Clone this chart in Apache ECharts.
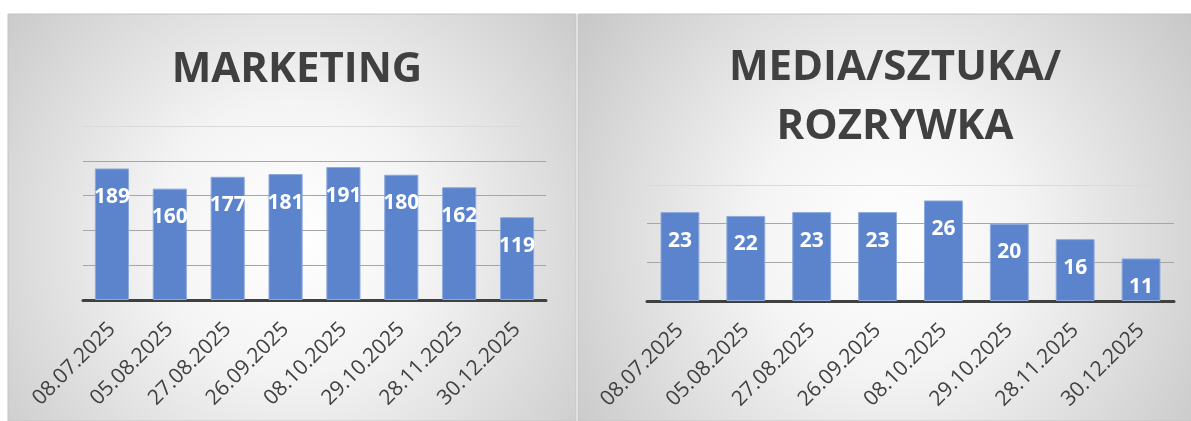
<!DOCTYPE html>
<html>
<head>
<meta charset="utf-8">
<script src="https://cdn.jsdelivr.net/npm/echarts@6/dist/echarts.min.js"></script>
<style>
  html, body { margin: 0; padding: 0; background: #fff; }
  #chart { width: 1191px; height: 421px; }
</style>
</head>
<body>
<div id="chart"></div>
<script>
// dane
const dates = ['08.07.2025', '05.08.2025', '27.08.2025', '26.09.2025', '08.10.2025', '29.10.2025', '28.11.2025', '30.12.2025']
const marketing = [189, 160, 177, 181, 191, 180, 162, 119]
const media = [23, 22, 23, 23, 26, 20, 16, 11]

const FONT = '"Open Sans", "DejaVu Sans", sans-serif'
const TEXT = '#404040'

function panelBg(x, w) { // tło panelu z gradientem
  return {
    type: 'rect',
    shape: { x: x, y: 14, width: w, height: 407 },
    style: {
      fill: new echarts.graphic.RadialGradient(0.5, 0.55, 0.95, [
        { offset: 0, color: '#ffffff' },
        { offset: 0.35, color: '#f4f4f4' },
        { offset: 1, color: '#c6c6c6' }
      ]),
      stroke: '#c4c4c4',
      lineWidth: 1
    },
    silent: true
  }
}

function xAxis(gridIndex) {
  return {
    type: 'category',
    gridIndex: gridIndex,
    data: dates,
    axisTick: { show: false },
    axisLine: { lineStyle: { color: '#404040', width: 3 } },
    axisLabel: { rotate: 45, margin: 26, color: TEXT, fontSize: 21, fontFamily: FONT, interval: 0 }
  }
}

function yAxis(gridIndex, max, interval, splitColors) {
  return {
    type: 'value',
    gridIndex: gridIndex,
    min: 0,
    max: max,
    interval: interval,
    axisLabel: { show: false },
    axisLine: { show: false },
    axisTick: { show: false },
    splitLine: { lineStyle: { color: splitColors, width: 1.2 } }
  }
}

function barSeries(idx, data) {
  return {
    type: 'bar',
    xAxisIndex: idx,
    yAxisIndex: idx,
    data: data,
    barWidth: '59%',
    itemStyle: { color: '#5b84cc', borderColor: '#8eaadc', borderWidth: 1 },
    label: {
      show: true,
      position: 'insideTop',
      distance: 18,
      color: '#ffffff',
      fontSize: 21,
      fontWeight: 'bold',
      fontFamily: FONT
    }
  }
}

const option = {
  backgroundColor: '#ffffff',
  animation: false,
  graphic: [panelBg(8, 568), panelBg(578, 620)],
  title: [
    {
      text: 'MARKETING',
      left: 292, top: 40, textAlign: 'center',
      textStyle: { color: TEXT, fontSize: 42, fontWeight: 'bold', fontFamily: FONT, lineHeight: 50 }
    },
    {
      text: 'MEDIA/SZTUKA/\nROZRYWKA',
      left: 890, top: 34, textAlign: 'center',
      textStyle: { color: TEXT, fontSize: 42, fontWeight: 'bold', fontFamily: FONT, lineHeight: 59 }
    }
  ],
  grid: [
    { left: 83, right: 645, top: 126, height: 174 },
    { left: 647, right: 17, top: 185, height: 116 }
  ],
  xAxis: [xAxis(0), xAxis(1)],
  yAxis: [
    yAxis(0, 250, 50, ['#a6a6a6', '#a6a6a6', '#a6a6a6', '#a6a6a6', '#a6a6a6', '#dadada']),
    yAxis(1, 30, 10, ['#a6a6a6', '#a6a6a6', '#a6a6a6', '#dadada'])
  ],
  series: [barSeries(0, marketing), barSeries(1, media)]
}

const chart = echarts.init(document.getElementById('chart'))
chart.setOption(option)
</script>
</body>
</html>
